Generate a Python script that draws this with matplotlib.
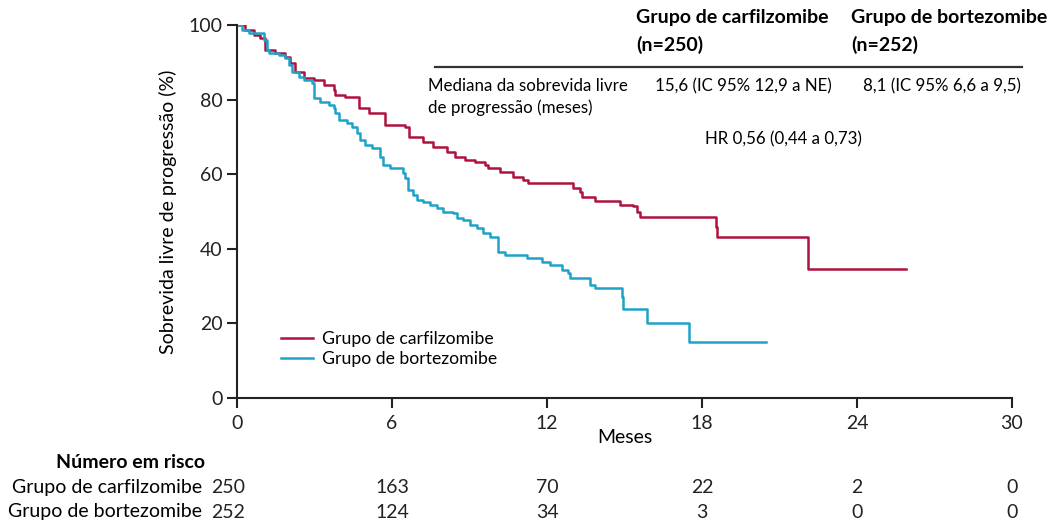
import numpy as np
import matplotlib.pyplot as plt

plt.rcParams['font.family'] = ['Lato', 'DejaVu Sans']

# Kaplan-Meier steps (months, % progression-free)
carf_t = [0, 0.3, 0.65, 0.9, 1.1, 1.48, 1.87, 2.06, 2.26, 2.58, 2.97, 3.36, 3.74, 3.8, 4.19,
          4.71, 5.1, 5.74, 6.5, 6.65, 7.21, 7.6, 8.12, 8.44, 8.83, 9.21, 9.6, 9.73, 10.18,
          10.7, 11.08, 11.28, 13.02, 13.28, 13.34, 13.86, 14.83, 15.34, 15.47, 15.6, 18.54,
          18.6, 22.1, 25.9]
carf_s = [100, 98.7, 97.3, 96.4, 93.3, 92.4, 91.5, 89.7, 87.5, 85.7, 85.3, 83.9, 82.6, 81.2, 80.8,
          77.7, 76.3, 73.2, 72.7, 70.1, 68.7, 67.4, 66.0, 64.7, 63.8, 63.4, 62.5, 61.6, 60.7,
          59.3, 58.4, 57.6, 56.2, 55.3, 54.0, 52.8, 51.7, 51.4, 49.9, 48.6, 45.9,
          43.2, 34.6, 34.6]

bort_t = [0, 0.19, 0.45, 1.03, 1.16, 1.23, 1.61, 1.87, 2.0, 2.13, 2.39, 2.58, 2.9, 2.97, 3.22,
          3.55, 3.74, 3.8, 3.94, 4.26, 4.45, 4.65, 4.77, 4.97, 5.23, 5.54, 5.66, 5.92, 6.44,
          6.5, 6.63, 6.83, 6.96, 7.21, 7.47, 7.73, 7.99, 8.37, 8.51, 8.76, 9.02, 9.28, 9.54,
          9.8, 10.12, 10.38, 11.22, 11.8, 12.12, 12.57, 12.83, 12.89, 13.67, 13.86, 14.89,
          14.95, 15.86, 17.5, 20.47]
bort_s = [100, 98.7, 97.8, 96.0, 93.3, 92.4, 92.0, 91.1, 89.3, 87.5, 86.1, 85.3, 84.4, 80.3, 79.4,
          78.6, 77.7, 76.3, 74.5, 73.6, 72.7, 71.0, 69.2, 67.8, 66.9, 64.7, 62.5, 61.6, 60.2,
          58.9, 55.8, 54.4, 53.1, 52.6, 51.7, 50.9, 49.9, 49.5, 48.2, 47.7, 46.4, 45.5, 44.2,
          43.2, 39.2, 38.3, 37.6, 36.5, 35.7, 34.3, 33.4, 32.1, 30.3, 29.4, 27.2,
          23.9, 20.2, 14.9, 14.9]

months = [0, 6, 12, 18, 24, 30]
risk_carf = [250, 163, 70, 22, 2, 0]
risk_bort = [252, 124, 34, 3, 0, 0]

red = '#B0123F'
blue = '#1FA2C8'
ink = '#222222'

fig = plt.figure(figsize=(10.57, 5.25), dpi=100)
ax = fig.add_axes([0.2242, 0.2419, 0.7332, 0.7105])

ax.step(carf_t, carf_s, where='post', color=red, lw=1.8, label='Grupo de carfilzomibe')
ax.step(bort_t, bort_s, where='post', color=blue, lw=1.8, label='Grupo de bortezomibe')

ax.set_xlim(0, 30)
ax.set_ylim(0, 100)
ax.set_xticks(months)
ax.set_yticks([0, 20, 40, 60, 80, 100])
ax.tick_params(direction='out', length=7, width=1.5, labelsize=14, colors=ink)
ax.tick_params(axis='x', pad=5)
for s in ['top', 'right']:
    ax.spines[s].set_visible(False)
for s in ['left', 'bottom']:
    ax.spines[s].set_linewidth(1.5)
    ax.spines[s].set_color(ink)
ax.set_xlabel('Meses', fontsize=14, labelpad=-2)
ax.set_ylabel('Sobrevida livre de progressão (%)', fontsize=14, labelpad=8)

ax.legend(loc='upper left', bbox_to_anchor=(0.251, 0.40), bbox_transform=fig.transFigure,
          frameon=False, fontsize=12.7, handlelength=1.8, handletextpad=0.5, labelspacing=0.25)

# summary table at top
fs_head = 14
fig.text(636 / 1057, 1 - 17 / 525, 'Grupo de carfilzomibe', fontsize=fs_head, weight='bold', va='center')
fig.text(636 / 1057, 1 - 45 / 525, '(n=250)', fontsize=fs_head, weight='bold', va='center')
fig.text(851 / 1057, 1 - 17 / 525, 'Grupo de bortezomibe', fontsize=fs_head, weight='bold', va='center')
fig.text(851 / 1057, 1 - 45 / 525, '(n=252)', fontsize=fs_head, weight='bold', va='center')
fig.add_artist(plt.Line2D([435 / 1057, 1022 / 1057], [1 - 67 / 525, 1 - 67 / 525],
                          transform=fig.transFigure, color='#333333', lw=1.6))
fs_body = 12.2
fig.text(428 / 1057, 1 - 86 / 525, 'Mediana da sobrevida livre', fontsize=fs_body, va='center')
fig.text(428 / 1057, 1 - 108 / 525, 'de progressão (meses)', fontsize=fs_body, va='center')
fig.text(655 / 1057, 1 - 86 / 525, '15,6 (IC 95% 12,9 a NE)', fontsize=fs_body, va='center')
fig.text(863 / 1057, 1 - 86 / 525, '8,1 (IC 95% 6,6 a 9,5)', fontsize=fs_body, va='center')
fig.text(705 / 1057, 1 - 139 / 525, 'HR 0,56 (0,44 a 0,73)', fontsize=fs_body, va='center')

# number at risk
fs_risk = 14
fig.text(205 / 1057, 1 - 462 / 525, 'Número em risco', fontsize=fs_risk, weight='bold', ha='right', va='center')
fig.text(202 / 1057, 1 - 487 / 525, 'Grupo de carfilzomibe', fontsize=fs_risk, ha='right', va='center')
fig.text(202 / 1057, 1 - 512 / 525, 'Grupo de bortezomibe', fontsize=fs_risk, ha='right', va='center')
row1 = -(487 - 398) / 373
row2 = -(512 - 398) / 373
for m, a, b in zip(months, risk_carf, risk_bort):
    x = m - 0.35 if m == 0 else m
    ax.text(x, row1, str(a), transform=ax.get_xaxis_transform(), fontsize=fs_risk,
            ha='center', va='center', color=ink)
    ax.text(x, row2, str(b), transform=ax.get_xaxis_transform(), fontsize=fs_risk,
            ha='center', va='center', color=ink)

fig.savefig('out.png', dpi=100)
